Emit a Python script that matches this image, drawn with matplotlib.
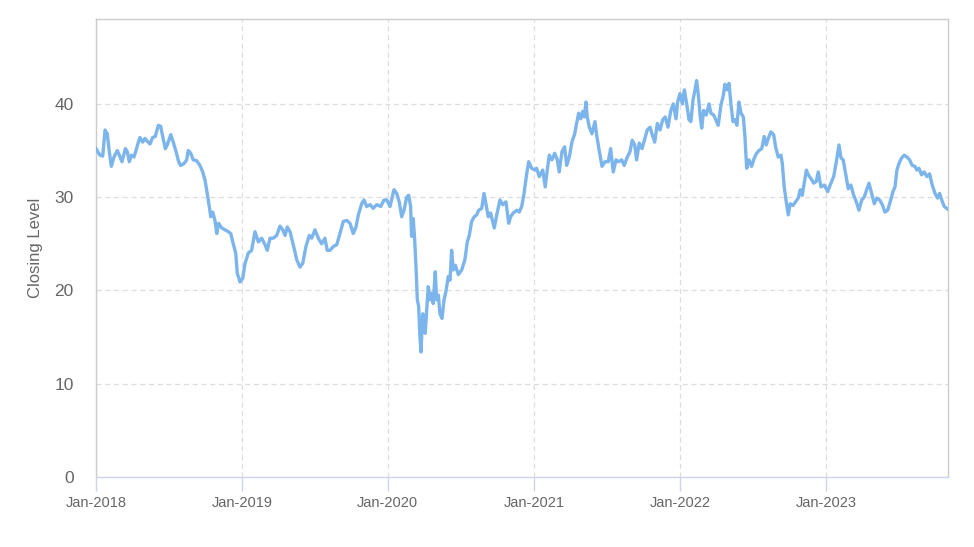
import numpy as np
import pandas as pd
import matplotlib
matplotlib.use("Agg")
import matplotlib.pyplot as plt

# time position in years since 2018-01-01, closing level
years_since_2018 = [
    0.000, 0.027, 0.046, 0.062, 0.077, 0.091, 0.105, 0.123, 0.146, 0.160,
    0.178, 0.201, 0.214, 0.228, 0.242, 0.260, 0.274, 0.290, 0.301, 0.320,
    0.336, 0.351, 0.370, 0.388, 0.406, 0.427, 0.443, 0.457, 0.475, 0.488,
    0.512, 0.529, 0.548, 0.566, 0.580, 0.603, 0.621, 0.632, 0.649, 0.666,
    0.690, 0.712, 0.731, 0.747, 0.762, 0.776, 0.786, 0.799, 0.815, 0.827,
    0.840, 0.861, 0.884, 0.906, 0.923, 0.940, 0.957, 0.968, 0.977, 0.986,
    1.005, 1.021, 1.043, 1.066, 1.089, 1.112, 1.135, 1.158, 1.173, 1.192,
    1.214, 1.238, 1.260, 1.279, 1.295, 1.310, 1.329, 1.351, 1.375, 1.397,
    1.416, 1.438, 1.461, 1.477, 1.500, 1.523, 1.546, 1.568, 1.584, 1.603,
    1.625, 1.649, 1.671, 1.694, 1.717, 1.740, 1.762, 1.781, 1.797, 1.820,
    1.836, 1.854, 1.877, 1.899, 1.923, 1.950, 1.973, 1.992, 2.014, 2.041,
    2.060, 2.077, 2.094, 2.110, 2.128, 2.142, 2.155, 2.162, 2.173, 2.183,
    2.192, 2.201, 2.210, 2.219, 2.226, 2.238, 2.247, 2.255, 2.265, 2.276,
    2.288, 2.299, 2.310, 2.324, 2.333, 2.345, 2.356, 2.370, 2.384, 2.397,
    2.413, 2.425, 2.436, 2.447, 2.461, 2.482, 2.505, 2.527, 2.543, 2.557,
    2.573, 2.591, 2.608, 2.621, 2.642, 2.658, 2.671, 2.687, 2.703, 2.728,
    2.745, 2.767, 2.786, 2.808, 2.827, 2.840, 2.858, 2.882, 2.899, 2.916,
    2.932, 2.950, 2.964, 2.984, 3.007, 3.018, 3.036, 3.060, 3.077, 3.091,
    3.105, 3.123, 3.142, 3.160, 3.173, 3.192, 3.210, 3.224, 3.242, 3.260,
    3.279, 3.292, 3.306, 3.320, 3.334, 3.345, 3.356, 3.365, 3.379, 3.397,
    3.418, 3.429, 3.447, 3.466, 3.486, 3.509, 3.525, 3.543, 3.562, 3.580,
    3.601, 3.618, 3.639, 3.658, 3.673, 3.690, 3.703, 3.721, 3.740, 3.760,
    3.776, 3.795, 3.808, 3.827, 3.845, 3.863, 3.882, 3.899, 3.918, 3.936,
    3.954, 3.973, 3.984, 4.000, 4.016, 4.030, 4.046, 4.062, 4.075, 4.089,
    4.103, 4.114, 4.125, 4.139, 4.149, 4.162, 4.180, 4.199, 4.212, 4.231,
    4.245, 4.262, 4.281, 4.297, 4.308, 4.322, 4.336, 4.349, 4.363, 4.377,
    4.390, 4.404, 4.418, 4.434, 4.445, 4.457, 4.473, 4.491, 4.509, 4.525,
    4.541, 4.560, 4.577, 4.591, 4.605, 4.623, 4.642, 4.655, 4.673, 4.692,
    4.701, 4.714, 4.728, 4.742, 4.755, 4.774, 4.792, 4.810, 4.824, 4.838,
    4.851, 4.866, 4.879, 4.897, 4.916, 4.934, 4.947, 4.966, 4.988, 5.012,
    5.034, 5.053, 5.071, 5.089, 5.103, 5.118, 5.135, 5.153, 5.171, 5.190,
    5.208, 5.226, 5.245, 5.262, 5.281, 5.295, 5.313, 5.331, 5.349, 5.368,
    5.386, 5.404, 5.423, 5.440, 5.459, 5.473, 5.486, 5.500, 5.518, 5.536,
    5.555, 5.573, 5.591, 5.610, 5.623, 5.637, 5.655, 5.673, 5.692, 5.710,
    5.728, 5.747, 5.765, 5.779, 5.793, 5.810, 5.836,
]
closing_level = [
    35.2, 34.5, 34.4, 37.2, 36.8, 34.9, 33.3, 34.3, 35.0, 34.5,
    33.8, 35.2, 34.9, 33.8, 34.5, 34.3, 35.0, 35.9, 36.4, 35.9,
    36.3, 36.0, 35.7, 36.4, 36.5, 37.7, 37.6, 36.5, 35.2, 35.6,
    36.7, 35.9, 34.9, 33.8, 33.4, 33.6, 34.0, 35.0, 34.7, 34.0,
    33.9, 33.4, 32.7, 31.8, 30.4, 29.0, 27.9, 28.4, 27.5, 26.1,
    27.2, 26.7, 26.5, 26.3, 26.1, 25.0, 24.0, 21.8, 21.4, 20.9,
    21.3, 22.9, 24.0, 24.3, 26.3, 25.2, 25.6, 24.9, 24.3, 25.6,
    25.6, 25.9, 26.9, 26.5, 25.9, 26.8, 26.3, 24.9, 23.3, 22.5,
    22.9, 24.7, 25.9, 25.6, 26.5, 25.6, 25.0, 25.6, 24.3, 24.3,
    24.7, 24.9, 26.1, 27.4, 27.5, 27.2, 26.1, 26.8, 28.1, 29.3,
    29.7, 29.0, 29.2, 28.8, 29.2, 29.0, 29.7, 29.7, 29.0, 30.8,
    30.4, 29.5, 27.9, 28.6, 30.0, 30.2, 29.0, 25.8, 27.7, 25.4,
    22.5, 19.0, 18.3, 15.0, 13.4, 17.5, 16.8, 15.4, 17.9, 20.4,
    19.0, 19.7, 18.6, 22.0, 19.0, 19.5, 17.5, 17.0, 19.0, 19.9,
    21.5, 21.1, 24.3, 22.2, 22.7, 21.7, 22.2, 23.3, 25.2, 25.9,
    27.4, 27.9, 28.1, 28.6, 28.8, 30.4, 29.3, 27.9, 28.3, 26.7,
    28.1, 29.7, 29.2, 29.5, 27.2, 27.9, 28.3, 28.6, 28.4, 29.0,
    30.4, 32.5, 33.8, 33.1, 32.9, 33.1, 32.2, 32.9, 31.1, 32.9,
    34.5, 34.0, 34.7, 34.0, 32.7, 34.9, 35.4, 33.4, 34.3, 35.9,
    36.8, 37.9, 39.0, 38.4, 39.2, 38.6, 40.2, 38.6, 37.5, 36.8,
    38.1, 36.7, 35.0, 33.3, 33.8, 33.8, 35.2, 32.7, 34.0, 33.8,
    34.0, 33.4, 34.3, 34.9, 36.1, 35.6, 34.0, 35.8, 35.2, 36.3,
    37.2, 37.5, 36.8, 35.9, 37.9, 37.2, 38.3, 38.6, 37.5, 39.2,
    40.0, 38.4, 40.2, 41.1, 40.0, 41.5, 40.0, 38.3, 38.1, 40.4,
    41.5, 42.5, 41.1, 38.6, 37.4, 39.3, 38.8, 40.0, 39.0, 38.8,
    38.3, 37.7, 39.9, 40.9, 42.1, 41.5, 42.2, 40.0, 38.1, 38.3,
    37.7, 40.2, 39.0, 38.6, 36.5, 33.1, 34.0, 33.3, 34.2, 34.7,
    35.0, 35.2, 36.5, 35.6, 36.3, 37.0, 36.7, 35.4, 34.3, 34.5,
    33.6, 31.1, 29.5, 28.1, 29.3, 29.1, 29.5, 29.9, 30.8, 30.2,
    31.5, 32.9, 32.4, 32.0, 31.5, 31.7, 32.7, 31.1, 31.3, 30.6,
    31.5, 32.2, 33.8, 35.6, 34.2, 34.0, 32.5, 30.9, 31.3, 30.2,
    29.5, 28.6, 29.7, 30.0, 30.9, 31.5, 30.4, 29.3, 29.9, 29.7,
    29.2, 28.4, 28.6, 29.5, 30.6, 31.1, 32.9, 33.6, 34.2, 34.5,
    34.3, 34.0, 33.4, 33.3, 32.9, 33.1, 32.4, 32.7, 32.2, 32.5,
    31.3, 30.4, 29.9, 30.4, 29.7, 29.0, 28.7,
]
tick_years = [2018, 2019, 2020, 2021, 2022, 2023]
y_ticks = [0, 10, 20, 30, 40]
y_label = "Closing Level"

base = pd.Timestamp("2018-01-01")
dates = base + pd.to_timedelta(np.array(years_since_2018) * 365.25, unit="D")
tick_dates = [pd.Timestamp(f"{y}-01-01") for y in tick_years]
tick_labels = [f"Jan-{y}" for y in tick_years]

plt.rcParams["font.family"] = ["Liberation Sans", "DejaVu Sans"]
TXT = "#666666"

fig = plt.figure(figsize=(9.74, 5.47), dpi=100)
W, H = 974, 547
ax = fig.add_axes([96 / W, (H - 477) / H, (948 - 96) / W, (477 - 19) / H])

ax.plot(dates, closing_level, color="#7cb5ec", lw=2.4, solid_joinstyle="round", zorder=3)

ax.set_xlim(dates[0], dates[-1])
ax.set_ylim(0, 49.1)

ax.set_yticks(y_ticks)
ax.set_yticklabels([str(v) for v in y_ticks])
ax.set_xticks(tick_dates)
ax.set_xticklabels(tick_labels)

ax.grid(True, color="#dddddd", linestyle=(0, (4, 3)), linewidth=0.9, zorder=0)

for s in ["left", "top", "right"]:
    ax.spines[s].set_color("#cccccc")
    ax.spines[s].set_linewidth(1.0)
ax.spines["bottom"].set_color("#ccd6eb")
ax.spines["bottom"].set_linewidth(1.0)

ax.tick_params(axis="y", length=0, pad=16, labelsize=12.5, labelcolor=TXT)
ax.tick_params(axis="x", length=10, width=1, color="#ccd6eb", pad=4,
               labelsize=10.5, labelcolor=TXT)

ax.set_ylabel(y_label, fontsize=12, color=TXT, labelpad=8)

fig.savefig("out.png", dpi=100, facecolor="white")
